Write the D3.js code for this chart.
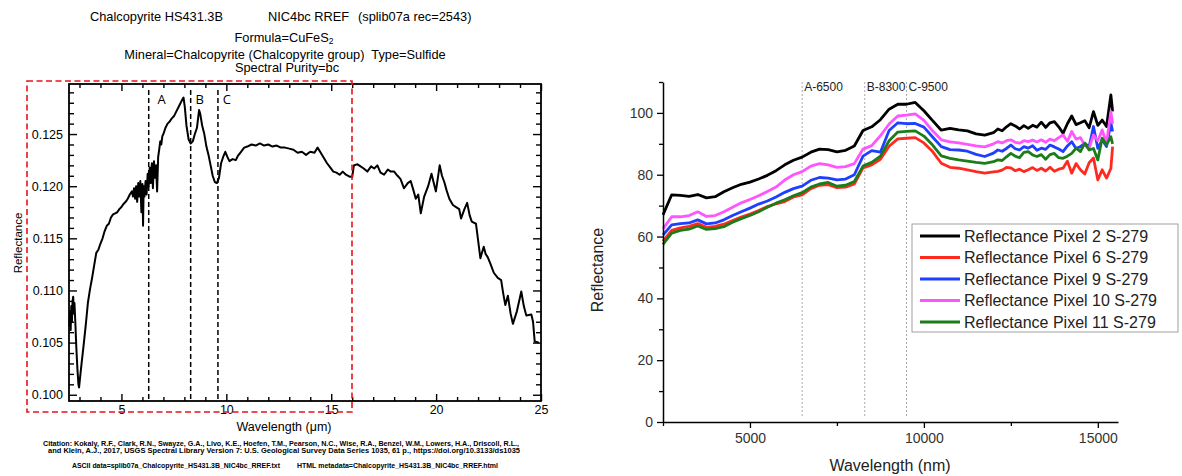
<!DOCTYPE html>
<html>
<head>
<meta charset="utf-8">
<script src="https://cdn.jsdelivr.net/npm/d3@7"></script>
<style>
  body { margin: 0; background: #fff; }
  svg { display: block; }
  text { white-space: pre; }
</style>
</head>
<body>
<svg id="fig" width="1182" height="476"></svg>
<script>
// ---------- USGS splib07a chalcopyrite spectrum (left panel) ----------
const usgsWavelengthUm = [
  2.52, 2.55, 2.58, 2.61, 2.64, 2.67, 2.70, 2.73, 2.76, 2.80, 2.85, 2.90, 2.95, 2.98, 3.02, 3.10,
  3.20, 3.30, 3.40, 3.50, 3.60, 3.70, 3.80, 3.90, 4.00, 4.10, 4.20, 4.30, 4.40, 4.50, 4.60, 4.70,
  4.80, 4.90, 5.00, 5.10, 5.20, 5.30, 5.40, 5.50, 5.55, 5.60, 5.65, 5.70, 5.75, 5.80, 5.85, 5.90,
  5.95, 6.00, 6.03, 6.06, 6.10, 6.15, 6.20, 6.25, 6.30, 6.35, 6.40, 6.45, 6.50, 6.55, 6.60, 6.65,
  6.70, 6.75, 6.80, 6.85, 6.90, 6.95, 7.00, 7.10, 7.20, 7.30, 7.40, 7.50, 7.60, 7.70, 7.80, 7.90,
  7.96, 8.02, 8.10, 8.20, 8.30, 8.40, 8.50, 8.60, 8.70, 8.75, 8.85, 8.95, 9.05, 9.15, 9.25, 9.35,
  9.45, 9.55, 9.65, 9.75, 9.85, 9.95, 10.05, 10.15, 10.30, 10.45, 10.55, 10.70, 10.85, 11.00, 11.20, 11.40,
  11.60, 11.80, 12.00, 12.20, 12.40, 12.60, 12.80, 13.00, 13.20, 13.40, 13.60, 13.80, 14.00, 14.20, 14.35, 14.50,
  14.65, 14.80, 14.95, 15.10, 15.25, 15.40, 15.55, 15.70, 15.90, 16.00, 16.08, 16.25, 16.40, 16.55, 16.72, 16.90,
  17.05, 17.20, 17.35, 17.52, 17.70, 17.84, 18.00, 18.16, 18.30, 18.47, 18.65, 18.79, 18.92, 19.03, 19.15, 19.27,
  19.43, 19.62, 19.78, 19.90, 19.99, 20.17, 20.28, 20.39, 20.50, 20.63, 20.80, 20.95, 21.10, 21.19, 21.35, 21.48,
  21.60, 21.70, 21.90, 22.11, 22.27, 22.36, 22.46, 22.60, 22.75, 22.94, 23.10, 23.20, 23.30, 23.42, 23.55, 23.66,
  23.85, 24.06, 24.18, 24.30, 24.54, 24.62, 24.70, 24.90
];
const usgsReflectance = [
  0.1066, 0.1080, 0.1062, 0.1085, 0.1070, 0.1090, 0.1094, 0.1078, 0.1088, 0.1070, 0.1045, 0.1025, 0.1010, 0.1007, 0.1015, 0.1030,
  0.1048, 0.1067, 0.1088, 0.1101, 0.1112, 0.1124, 0.1136, 0.1139, 0.1145, 0.1150, 0.1157, 0.1162, 0.1164, 0.1170, 0.1173, 0.1174,
  0.1175, 0.1178, 0.1180, 0.1183, 0.1185, 0.1188, 0.1192, 0.1195, 0.1190, 0.1198, 0.1188, 0.1200, 0.1185, 0.1203, 0.1190, 0.1205,
  0.1175, 0.1202, 0.1162, 0.1200, 0.1190, 0.1205, 0.1192, 0.1212, 0.1200, 0.1218, 0.1203, 0.1222, 0.1198, 0.1224, 0.1208, 0.1220,
  0.1195, 0.1228, 0.1235, 0.1243, 0.1240, 0.1248, 0.1250, 0.1256, 0.1260, 0.1262, 0.1265, 0.1267, 0.1271, 0.1275, 0.1279, 0.1283,
  0.1285, 0.1276, 0.1258, 0.1245, 0.1241, 0.1243, 0.1250, 0.1256, 0.1273, 0.1270, 0.1258, 0.1250, 0.1238, 0.1230, 0.1220, 0.1210,
  0.1204, 0.1203, 0.1208, 0.1222, 0.1228, 0.1233, 0.1228, 0.1224, 0.1226, 0.1225, 0.1229, 0.1233, 0.1237, 0.1238, 0.1240, 0.1239,
  0.1241, 0.1239, 0.1240, 0.1238, 0.1239, 0.1237, 0.1237, 0.1236, 0.1235, 0.1232, 0.1233, 0.1230, 0.1233, 0.1232, 0.1237, 0.1232,
  0.1227, 0.1222, 0.1218, 0.1214, 0.1213, 0.1211, 0.1214, 0.1211, 0.1209, 0.1209, 0.1220, 0.1221, 0.1219, 0.1217, 0.1214, 0.1219,
  0.1217, 0.1220, 0.1213, 0.1211, 0.1216, 0.1214, 0.1214, 0.1210, 0.1207, 0.1198, 0.1203, 0.1205, 0.1196, 0.1188, 0.1192, 0.1174,
  0.1190, 0.1200, 0.1212, 0.1202, 0.1195, 0.1220, 0.1210, 0.1204, 0.1196, 0.1188, 0.1182, 0.1180, 0.1178, 0.1169, 0.1178, 0.1184,
  0.1172, 0.1166, 0.1164, 0.1131, 0.1142, 0.1135, 0.1132, 0.1125, 0.1117, 0.1112, 0.1110, 0.1097, 0.1086, 0.1095, 0.1078, 0.1068,
  0.1080, 0.1099, 0.1085, 0.1076, 0.1077, 0.1070, 0.1051, 0.1050
];
const featureMarkersUm = [6.3, 8.3, 9.6];
const featureLetters = ["A", "B", "C"];
const usgsXMajor = [5, 10, 15, 20, 25];
const usgsXMinor = [3, 4, 6, 7, 8, 9, 11, 12, 13, 14, 16, 17, 18, 19, 21, 22, 23, 24];
const usgsYMajor = [0.100, 0.105, 0.110, 0.115, 0.120, 0.125];
const usgsYMinor = [0.101, 0.102, 0.103, 0.104, 0.106, 0.107, 0.108, 0.109, 0.111, 0.112, 0.113, 0.114,
                    0.116, 0.117, 0.118, 0.119, 0.121, 0.122, 0.123, 0.124, 0.126, 0.127, 0.128, 0.129];

// ---------- Reflectance of sample S-279 pixels (right panel) ----------
const pixelWavelengthNm = [
  2500, 2750, 3000, 3250, 3500, 3750, 4000, 4250, 4500, 4750, 5000, 5250, 5500, 5750, 6000, 6250,
  6500, 6750, 7000, 7250, 7500, 7750, 8000, 8250, 8500, 8750, 9000, 9250, 9500, 9750, 10000, 10250,
  10500, 10750, 11000, 11250, 11500, 11750, 12000, 12125, 12250, 12375, 12500, 12625, 12750, 12875, 13000, 13125,
  13250, 13375, 13500, 13625, 13750, 13875, 14000, 14125, 14250, 14375, 14500, 14625, 14750, 14875, 15000, 15125,
  15250, 15375, 15425
];
const pixel2 = [
  67.0, 73.5, 73.3, 73.0, 73.6, 72.5, 72.9, 74.5, 75.8, 76.9, 77.6, 78.6, 79.8, 81.3, 83.2, 84.7,
  85.7, 87.3, 88.3, 88.1, 87.4, 87.9, 89.3, 94.3, 95.5, 97.8, 101.2, 102.8, 102.8, 103.4, 100.7, 97.5,
  94.4, 95.0, 94.5, 94.2, 93.2, 92.8, 93.6, 94.8, 94.2, 95.5, 96.5, 95.8, 94.8, 95.9, 95.0, 96.0,
  95.4, 97.0, 95.3, 96.8, 97.2, 95.5, 93.4, 96.5, 99.0, 96.2, 96.8, 97.5, 95.2, 100.4, 96.0, 97.7,
  95.6, 105.8, 100.5
];
const pixel6 = [
  58.5, 62.0, 62.8, 63.3, 64.2, 63.0, 63.3, 64.0, 65.2, 66.3, 67.3, 68.4, 69.7, 70.6, 71.3, 72.8,
  73.5, 75.5, 76.6, 76.8, 75.8, 76.0, 77.0, 82.2, 83.2, 85.0, 89.2, 91.6, 91.8, 92.0, 90.3, 87.5,
  83.7, 82.4, 82.1, 81.6, 81.0, 80.5, 80.9, 81.1, 81.5, 82.4, 82.2, 81.3, 81.8, 81.0, 81.6, 82.3,
  81.4, 82.1, 81.2, 82.4, 81.1, 81.8, 82.1, 84.4, 80.5, 83.6, 81.6, 80.2, 83.9, 85.4, 78.3, 81.6,
  78.9, 82.0, 89.1
];
const pixel9 = [
  60.5, 63.8, 64.2, 64.4, 65.4, 64.1, 64.4, 65.4, 66.8, 68.0, 69.2, 70.5, 71.5, 72.8, 74.3, 75.5,
  76.3, 78.2, 79.1, 78.9, 78.3, 78.6, 80.0, 86.0, 87.8, 87.3, 94.3, 96.8, 96.5, 96.6, 95.4, 92.2,
  89.1, 88.1, 88.0, 87.6, 86.6, 85.9, 87.0, 88.0, 87.6, 88.5, 89.6, 88.4, 88.0, 89.1, 88.6, 89.4,
  87.9, 88.6, 88.2, 89.6, 89.0, 88.3, 87.5, 89.3, 90.7, 88.5, 89.1, 90.2, 89.0, 95.6, 88.5, 91.3,
  89.1, 96.7, 94.0
];
const pixel10 = [
  62.5, 66.4, 66.4, 66.8, 68.0, 66.5, 66.8, 68.0, 69.5, 70.9, 72.0, 73.2, 74.6, 76.0, 78.3, 80.0,
  81.0, 82.8, 83.6, 83.2, 82.4, 82.6, 83.6, 88.3, 89.4, 92.6, 96.4, 99.0, 99.3, 99.7, 97.6, 94.2,
  91.3, 90.6, 90.3, 89.8, 89.3, 89.0, 90.0, 90.7, 90.3, 91.0, 91.3, 90.5, 90.2, 91.0, 90.7, 91.2,
  90.6, 91.3, 90.5, 91.5, 91.0, 92.0, 92.9, 90.8, 94.0, 91.5, 92.0, 89.5, 88.6, 92.9, 91.0, 94.5,
  90.2, 100.4, 96.5
];
const pixel11 = [
  57.5, 61.1, 62.0, 62.4, 63.4, 62.3, 62.6, 63.2, 64.6, 65.8, 66.8, 68.0, 69.5, 70.8, 71.9, 73.2,
  74.2, 76.0, 77.0, 77.5, 76.3, 76.6, 77.8, 82.8, 84.0, 86.0, 91.0, 93.8, 94.0, 94.2, 92.5, 89.6,
  86.1, 85.3, 84.8, 84.4, 84.0, 83.7, 84.2, 84.8, 84.6, 85.8, 86.9, 86.0, 85.5, 87.2, 87.5, 86.4,
  85.9, 86.5, 85.0, 86.5, 86.9, 85.5, 85.3, 86.0, 86.9, 88.6, 87.5, 90.2, 88.0, 88.5, 84.8, 91.8,
  89.7, 92.3, 90.0
];
const pixelNames = [
  "Reflectance Pixel 2 S-279", "Reflectance Pixel 6 S-279", "Reflectance Pixel 9 S-279",
  "Reflectance Pixel 10 S-279", "Reflectance Pixel 11 S-279"
];
const pixelColors = ["#000000", "#ff2a1f", "#1f3fff", "#ff55ff", "#1a7d1a"];
const markerNm = [6500, 8300, 9500];
const markerLabels = ["A-6500", "B-8300", "C-9500"];
const pixelXMajor = [5000, 10000, 15000];
const pixelXMinor = [2500, 7500, 12500];
const pixelYMajor = [0, 20, 40, 60, 80, 100];
const pixelYMinor = [10, 30, 50, 70, 90, 110];

const svg = d3.select("#fig");

// ================= left panel =================
const L = { left: 69, right: 541, top: 84, bottom: 401 };
const lx = d3.scaleLinear().domain([2.5, 25]).range([L.left, L.right]);
const ly = d3.scaleLinear().domain([0.0994, 0.1298]).range([L.bottom, L.top]);
const usgsFont = "'Liberation Sans', Arial, sans-serif";

const left = svg.append("g");

// header text
const head = left.append("g").attr("font-family", usgsFont).attr("font-size", 12.8).attr("fill", "#000");
head.append("text").attr("x", 90).attr("y", 21).text("Chalcopyrite HS431.3B");
head.append("text").attr("x", 268).attr("y", 21).text("NIC4bc RREF");
head.append("text").attr("x", 358).attr("y", 21).text("(splib07a rec=2543)");
const f = head.append("text").attr("x", 284).attr("y", 41.5).attr("text-anchor", "middle");
f.append("tspan").text("Formula=CuFeS");
f.append("tspan").attr("dy", 2.5).attr("font-size", 8.5).text("2");
head.append("text").attr("x", 285).attr("y", 58.5).attr("text-anchor", "middle")
  .text("Mineral=Chalcopyrite (Chalcopyrite group)  Type=Sulfide");
head.append("text").attr("x", 287).attr("y", 72).attr("text-anchor", "middle")
  .text("Spectral Purity=bc");

// inward ticks on all four sides
function ticksG(axis, tx, ty) {
  const g = left.append("g").attr("transform", `translate(${tx},${ty})`).call(axis);
  g.select(".domain").remove();
  g.selectAll(".tick line").attr("stroke", "#000").attr("stroke-width", 1.4);
  g.selectAll(".tick text").attr("font-family", usgsFont).attr("font-size", 12.5).attr("fill", "#000");
  return g;
}
ticksG(d3.axisBottom(lx).tickValues(usgsXMajor).tickSize(-7).tickPadding(4).tickFormat(d3.format("d")), 0, L.bottom);
ticksG(d3.axisBottom(lx).tickValues(usgsXMinor).tickSize(-4).tickFormat(""), 0, L.bottom);
ticksG(d3.axisTop(lx).tickValues(usgsXMajor).tickSize(-7).tickFormat(""), 0, L.top);
ticksG(d3.axisTop(lx).tickValues(usgsXMinor).tickSize(-4).tickFormat(""), 0, L.top);
ticksG(d3.axisLeft(ly).tickValues(usgsYMajor).tickSize(-8).tickPadding(6).tickFormat(d3.format(".3f")), L.left, 0);
ticksG(d3.axisLeft(ly).tickValues(usgsYMinor).tickSize(-5).tickFormat(""), L.left, 0);
ticksG(d3.axisRight(ly).tickValues(usgsYMajor).tickSize(-8).tickFormat(""), L.right, 0);
ticksG(d3.axisRight(ly).tickValues(usgsYMinor).tickSize(-5).tickFormat(""), L.right, 0);

left.append("rect")
  .attr("x", L.left).attr("y", L.top)
  .attr("width", L.right - L.left).attr("height", L.bottom - L.top)
  .attr("fill", "none").attr("stroke", "#000").attr("stroke-width", 1.8);

// absorption feature markers
left.selectAll("line.feat").data(featureMarkersUm).join("line")
  .attr("class", "feat")
  .attr("x1", d => lx(d)).attr("x2", d => lx(d))
  .attr("y1", L.top + 6).attr("y2", L.bottom)
  .attr("stroke", "#000").attr("stroke-width", 1.5).attr("stroke-dasharray", "5,3");
left.selectAll("text.feat").data(featureMarkersUm).join("text")
  .attr("class", "feat")
  .attr("x", (d, i) => lx(d) + (i === 0 ? 13 : 9)).attr("y", 104)
  .attr("text-anchor", "middle")
  .attr("font-family", "'Open Sans', 'Liberation Sans', sans-serif").attr("font-size", 13)
  .text((d, i) => featureLetters[i]);

// spectrum
const usgsPts = usgsWavelengthUm.map((w, i) => [w, usgsReflectance[i]]);
left.append("path")
  .datum(usgsPts)
  .attr("fill", "none").attr("stroke", "#000").attr("stroke-width", 2).attr("stroke-linejoin", "round")
  .attr("d", d3.line().x(d => lx(d[0])).y(d => ly(d[1])));

// axis titles
left.append("text").attr("x", 284).attr("y", 431).attr("text-anchor", "middle")
  .attr("font-family", usgsFont).attr("font-size", 12.5).text("Wavelength (\u03bcm)");
left.append("text").attr("transform", "translate(22,243) rotate(-90)").attr("text-anchor", "middle")
  .attr("font-family", usgsFont).attr("font-size", 11.5).text("Reflectance");

// citation block
const cite = left.append("g").attr("font-family", usgsFont).attr("font-weight", "bold").attr("font-size", 7).attr("fill", "#000");
cite.append("text").attr("x", 43).attr("y", 446).attr("textLength", 476).attr("lengthAdjust", "spacingAndGlyphs")
  .text("Citation: Kokaly, R.F., Clark, R.N., Swayze, G.A., Livo, K.E., Hoefen, T.M., Pearson, N.C., Wise, R.A., Benzel, W.M., Lowers, H.A., Driscoll, R.L.,");
cite.append("text").attr("x", 48).attr("y", 452.5).attr("textLength", 472).attr("lengthAdjust", "spacingAndGlyphs")
  .text("and Klein, A.J., 2017, USGS Spectral Library Version 7: U.S. Geological Survey Data Series 1035, 61 p., https://doi.org/10.3133/ds1035");
cite.append("text").attr("x", 72).attr("y", 468).attr("textLength", 208).attr("lengthAdjust", "spacingAndGlyphs")
  .text("ASCII data=splib07a_Chalcopyrite_HS431.3B_NIC4bc_RREF.txt");
cite.append("text").attr("x", 297).attr("y", 468).attr("textLength", 201).attr("lengthAdjust", "spacingAndGlyphs")
  .text("HTML metadata=Chalcopyrite_HS431.3B_NIC4bc_RREF.html");

// red dashed highlight box
left.append("rect")
  .attr("x", 27).attr("y", 81).attr("width", 325).attr("height", 331)
  .attr("fill", "none").attr("stroke", "#e8141b").attr("stroke-width", 1.6).attr("stroke-dasharray", "6,3.5");

// ================= right panel =================
const R = { left: 663, right: 1118, top: 82, bottom: 422 };
const rx = d3.scaleLinear().domain([2500, 15580]).range([R.left, R.right]);
const ry = d3.scaleLinear().domain([0, 110]).range([R.bottom, R.top]);
const arial = "'Liberation Sans', Arial, sans-serif";
const right = svg.append("g");

// marker lines
right.selectAll("line.mk").data(markerNm).join("line")
  .attr("class", "mk")
  .attr("x1", d => rx(d)).attr("x2", d => rx(d))
  .attr("y1", R.top).attr("y2", R.bottom - 5)
  .attr("stroke", "#a8a8a8").attr("stroke-width", 1).attr("stroke-dasharray", "2,2");
right.selectAll("text.mk").data(markerNm).join("text")
  .attr("class", "mk")
  .attr("x", d => rx(d) + 2).attr("y", 91)
  .attr("font-family", arial).attr("font-size", 12).attr("fill", "#222")
  .text((d, i) => markerLabels[i]);

// spectra
const series = [pixel2, pixel6, pixel9, pixel10, pixel11];
const rline = d3.line().x(d => rx(d[0])).y(d => ry(d[1])).curve(d3.curveLinear);
series.forEach((vals, k) => {
  right.append("path")
    .datum(pixelWavelengthNm.map((w, i) => [w, vals[i]]))
    .attr("fill", "none").attr("stroke", pixelColors[k]).attr("stroke-width", 2.8)
    .attr("stroke-linejoin", "round")
    .attr("d", rline);
});

// axes
function raxis(axis, tx, ty, keepDomain) {
  const g = right.append("g").attr("transform", `translate(${tx},${ty})`).call(axis);
  if (!keepDomain) g.select(".domain").remove();
  else g.select(".domain").attr("stroke", "#000").attr("stroke-width", 1.5);
  g.selectAll(".tick line").attr("stroke", "#000").attr("stroke-width", 1.3);
  g.selectAll(".tick text").attr("font-family", arial).attr("font-size", 14).attr("fill", "#333");
  return g;
}
raxis(d3.axisBottom(rx).tickValues(pixelXMinor).tickSize(4).tickFormat(""), 0, R.bottom, false);
raxis(d3.axisBottom(rx).tickValues(pixelXMajor).tickSizeInner(6).tickSizeOuter(0).tickPadding(5)
  .tickFormat(d3.format("d")), 0, R.bottom, true);
raxis(d3.axisLeft(ry).tickValues(pixelYMinor).tickSize(4).tickFormat(""), R.left, 0, false);
raxis(d3.axisLeft(ry).tickValues(pixelYMajor).tickSizeInner(6).tickSizeOuter(0).tickPadding(4)
  .tickFormat(d3.format("d")), R.left, 0, true);

right.append("text").attr("x", 890).attr("y", 471).attr("text-anchor", "middle")
  .attr("font-family", arial).attr("font-size", 16).attr("fill", "#222").text("Wavelength (nm)");
right.append("text").attr("transform", "translate(603,270) rotate(-90)").attr("text-anchor", "middle")
  .attr("font-family", arial).attr("font-size", 16).attr("fill", "#222").text("Reflectance");

// legend
const lg = right.append("g").attr("transform", "translate(912,224)");
lg.append("rect").attr("width", 266).attr("height", 108)
  .attr("fill", "#fff").attr("stroke", "#a0a0a0").attr("stroke-width", 1);
pixelNames.forEach((name, i) => {
  const yy = 12 + i * 21.5;
  lg.append("line").attr("x1", 8).attr("x2", 48).attr("y1", yy).attr("y2", yy)
    .attr("stroke", pixelColors[i]).attr("stroke-width", 3);
  lg.append("text").attr("x", 52).attr("y", yy + 5.5)
    .attr("font-family", arial).attr("font-size", 16).attr("fill", "#222").text(name);
});
</script>
</body>
</html>
